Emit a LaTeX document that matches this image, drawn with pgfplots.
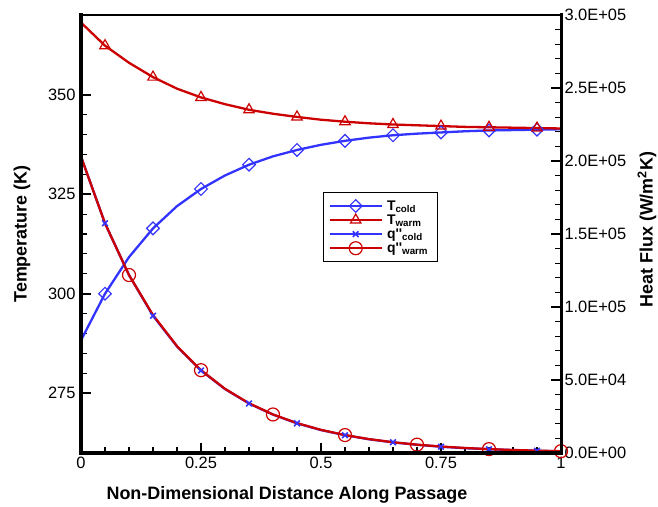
\documentclass[border=0pt]{standalone}
\usepackage{fontspec}
\setmainfont{Liberation Sans}
\usepackage{pgfplots}
\usepackage{pgfplotstable}
\pgfplotsset{compat=1.18}
\definecolor{tblue}{RGB}{51,51,255}
\definecolor{tred}{RGB}{204,0,0}

\pgfplotstableread{
x T
0    288.3
0.05 300.0
0.1  309.2
0.15 316.4
0.2  322.0
0.25 326.3
0.3  329.7
0.35 332.4
0.4  334.5
0.45 336.1
0.5  337.4
0.55 338.4
0.6  339.2
0.65 339.8
0.7  340.2
0.75 340.5
0.8  340.8
0.85 341.0
0.9  341.1
0.95 341.2
1.0  341.3
}\tcold

\pgfplotstableread{
x T
0    368.1
0.05 362.3
0.1  358.0
0.15 354.4
0.2  351.5
0.25 349.3
0.3  347.6
0.35 346.2
0.4  345.2
0.45 344.4
0.5  343.7
0.55 343.2
0.6  342.8
0.65 342.5
0.7  342.3
0.75 342.1
0.8  341.9
0.85 341.8
0.9  341.7
0.95 341.6
1.0  341.5
}\twarm

\pgfplotstableread{
x q
0    203000
0.05 157300
0.1  121900
0.15 94000
0.2  73000
0.25 56500
0.3  43800
0.35 33900
0.4  26300
0.45 20300
0.5  15700
0.55 12200
0.6  9400
0.65 7300
0.7  5600
0.75 4300
0.8  3300
0.85 2600
0.9  2000
0.95 1500
1.0  1200
}\qcold

\pgfplotstableread{
x q
0    203000
0.05 157300
0.1  121900
0.15 94460
0.2  73200
0.25 56720
0.3  43950
0.35 34060
0.4  26390
0.45 20460
0.5  15850
0.55 12280
0.6  9520
0.65 7370
0.7  5720
0.75 4430
0.8  3430
0.85 2660
0.9  2060
0.95 1600
1.0  1240
}\qwarm

\begin{document}
\begin{tikzpicture}
\path[use as bounding box] (-81bp,-54bp) rectangle (577bp,453bp);
\pgfplotsset{
  common/.style={
    scale only axis, width=480bp, height=438bp, at={(0,0)}, anchor=south west,
    xmin=0, xmax=1,
    tick align=inside,
    major tick length=10bp, minor tick length=6bp,
    every tick/.style={black, line width=1.8bp},
    every minor tick/.style={black, line width=1.1bp},
    axis line style={draw=none},
    ticklabel style={font=\fontsize{16.5}{18}\selectfont},
    /pgf/number format/assume math mode=true,
    label style={font=\fontsize{18}{20}\selectfont\bfseries},
    clip=false,
  }
}
\begin{axis}[common, name=main,
  ymin=260, ymax=370,
  xtick={0,0.25,0.5,0.75,1}, xticklabels={0,0.25,0.5,0.75,1},
  ytick={275,300,325,350},
  minor x tick num=4, minor y tick num=4,
  xtick pos=bottom, ytick pos=left,
  xticklabel style={yshift=-1bp},
  yticklabel style={xshift=-2bp},
  xlabel={Non-Dimensional Distance Along Passage},
  xlabel style={at={(axis description cs:0.429,-0.096)}, anchor=center},
  ylabel={Temperature (K)},
  ylabel style={at={(axis description cs:-0.123,0.5)}, anchor=center},
]
\addplot[tblue, line width=2.3bp, mark=square, mark size=4.5bp, mark repeat=2, mark phase=2,
  mark options={rotate=45, solid, fill=white, line width=1.2bp}] table[x=x,y=T] {\tcold};
\addplot[tred, line width=2.3bp, mark=triangle, mark size=6bp, mark repeat=2, mark phase=2,
  mark options={solid, line width=1.2bp}] table[x=x,y=T] {\twarm};
\end{axis}
\begin{axis}[common,
  ymin=0, ymax=300000,
  hide x axis,
  ytick={0,50000,100000,150000,200000,250000,300000},
  yticklabels={0.0E+00,5.0E+04,1.0E+05,1.5E+05,2.0E+05,2.5E+05,3.0E+05},
  scaled y ticks=false,
  minor y tick num=4,
  ytick pos=right,
  yticklabel style={xshift=0bp},
  ylabel={Heat Flux (W/m\textsuperscript{2}K)},
  ylabel style={at={(axis description cs:1.179,0.51)}, anchor=center},
  legend style={at={(axis description cs:0.504,0.596)}, anchor=north west,
    draw=black, line width=1bp, font=\fontsize{14}{14}\selectfont\bfseries,
    inner xsep=5bp, inner ysep=6bp, row sep=-1bp,
    nodes={inner xsep=4bp}},
  legend cell align=left,
  legend image code/.code={\draw[mark repeat=2,mark phase=2] plot coordinates {(0bp,0bp) (26bp,0bp) (52bp,0bp)};},
]
\addlegendimage{tblue, line width=2.6bp, mark=square, mark size=4.5bp, mark options={rotate=45, solid, fill=white, line width=1.2bp}}
\addlegendentry{T\textsubscript{cold}}
\addlegendimage{tred, line width=2.6bp, mark=triangle, mark size=6bp, mark options={solid, line width=1.2bp}}
\addlegendentry{T\textsubscript{warm}}
\addplot[tblue, line width=2.3bp, mark=x, mark size=4bp, mark repeat=2, mark phase=2,
  mark options={solid, line width=1.6bp}] table[x=x,y=q] {\qcold};
\addlegendentry{q\textquotesingle\textquotesingle\textsubscript{cold}}
\addplot[tred, line width=2.3bp, mark=o, mark size=6.5bp, mark repeat=3, mark phase=3,
  mark options={solid, line width=1.2bp}] table[x=x,y=q] {\qwarm};
\addlegendentry{q\textquotesingle\textquotesingle\textsubscript{warm}}
\end{axis}
\draw[line width=3bp, line cap=rect] (main.north west) -- (main.south west) -- (main.south east) -- (main.north east);
\draw[line width=1.5bp] (main.north west) -- (main.north east);
\end{tikzpicture}
\end{document}
